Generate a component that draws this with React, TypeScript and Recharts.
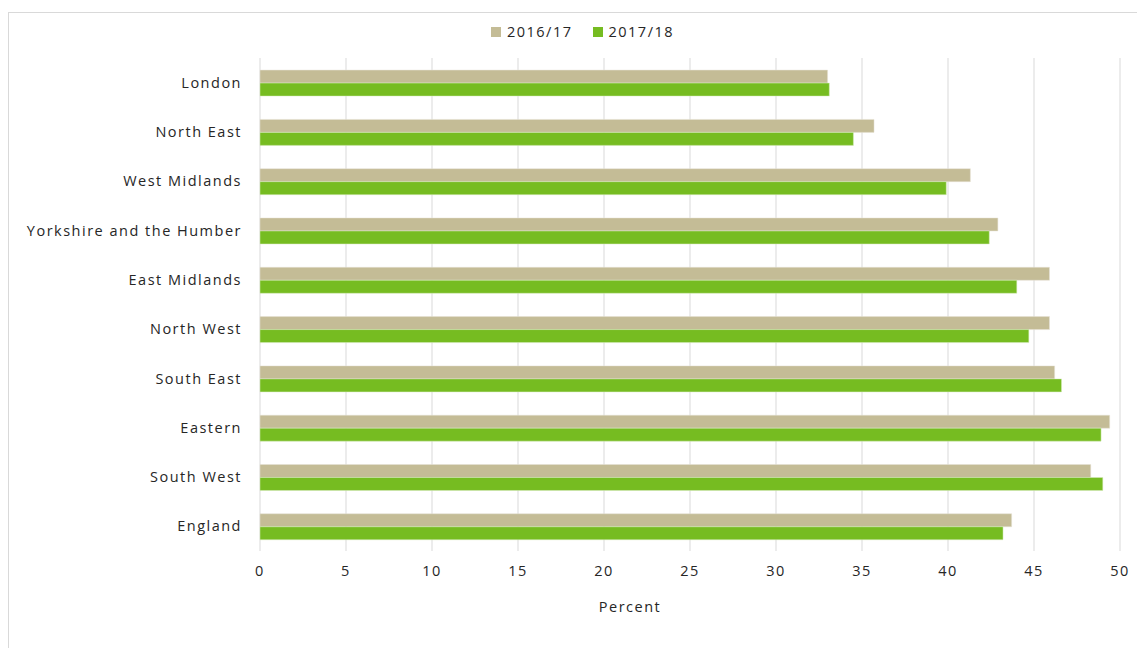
import React from 'react';
import { BarChart, Bar, XAxis, YAxis, CartesianGrid, Legend } from 'recharts';

const regions = [
  'London',
  'North East',
  'West Midlands',
  'Yorkshire and the Humber',
  'East Midlands',
  'North West',
  'South East',
  'Eastern',
  'South West',
  'England',
];
const values1617 = [33.0, 35.7, 41.3, 42.9, 45.9, 45.9, 46.2, 49.4, 48.3, 43.7];
const values1718 = [33.1, 34.5, 39.9, 42.4, 44.0, 44.7, 46.6, 48.9, 49.0, 43.2];
const xTicks = [0, 5, 10, 15, 20, 25, 30, 35, 40, 45, 50];

const data = regions.map((name, i) => ({
  name,
  y1617: values1617[i],
  y1718: values1718[i],
}));

const FONT = '"Open Sans", sans-serif';
const TAN = '#c4bc96';
const GREEN = '#76bc21';
const SPACING = 1.5;

const LegendBox = () => (
  <div
    style={{
      display: 'flex',
      justifyContent: 'center',
      gap: 20,
      fontFamily: FONT,
      fontSize: 14.5,
      letterSpacing: SPACING,
      color: '#262626',
      paddingLeft: 28,
    }}
  >
    {[
      { label: '2016/17', color: TAN },
      { label: '2017/18', color: GREEN },
    ].map((it) => (
      <span key={it.label} style={{ display: 'flex', alignItems: 'center' }}>
        <span style={{ width: 10, height: 10, background: it.color, marginRight: 6, display: 'inline-block' }} />
        {it.label}
      </span>
    ))}
  </div>
);

const PercentLabel = (props: any) => {
  const vb = props.viewBox || {};
  return (
    <text
      x={vb.x + vb.width / 2 - 60}
      y={612}
      textAnchor="middle"
      fill="#262626"
      fontFamily={FONT}
      fontSize={14.5}
      letterSpacing={SPACING}
    >
      Percent
    </text>
  );
};

export default function App() {
  return (
    <div style={{ position: 'absolute', left: 0, top: 0, width: 1137, height: 648, background: '#fff' }}>
      <div
        style={{
          position: 'absolute',
          left: 8,
          top: 12,
          width: 1140,
          height: 640,
          border: '1px solid #d9d9d9',
          boxSizing: 'border-box',
        }}
      />
      <BarChart
        width={1137}
        height={648}
        data={data}
        layout="vertical"
        margin={{ top: 38, right: 17, bottom: 23, left: 0 }}
        barCategoryGap="24.5%"
        barGap={0}
        style={{ position: 'absolute', left: 0, top: 0 }}
      >
        <CartesianGrid horizontal={false} stroke="#d9d9d9" />
        <XAxis
          type="number"
          domain={[0, 50]}
          ticks={xTicks}
          interval={0}
          axisLine={false}
          tickLine={false}
          tickSize={0}
          tickMargin={15}
          height={74}
          tick={{ fill: '#262626', fontFamily: FONT, fontSize: 14.5, letterSpacing: SPACING }}
          label={<PercentLabel />}
        />
        <YAxis
          type="category"
          dataKey="name"
          width={260}
          axisLine={false}
          tickLine={false}
          tickSize={0}
          tickMargin={18}
          interval={0}
          tick={{ fill: '#262626', fontFamily: FONT, fontSize: 14.5, letterSpacing: SPACING }}
        />
        <Legend
          verticalAlign="top"
          content={<LegendBox />}
          wrapperStyle={{ position: 'absolute', top: 22, left: 0, width: 1137, height: 20 }}
        />
        <Bar dataKey="y1617" name="2016/17" fill={TAN} stroke="#e6e3d6" strokeWidth={0.5} isAnimationActive={false} />
        <Bar dataKey="y1718" name="2017/18" fill={GREEN} stroke="#d8ecc0" strokeWidth={0.5} isAnimationActive={false} />
      </BarChart>
    </div>
  );
}
